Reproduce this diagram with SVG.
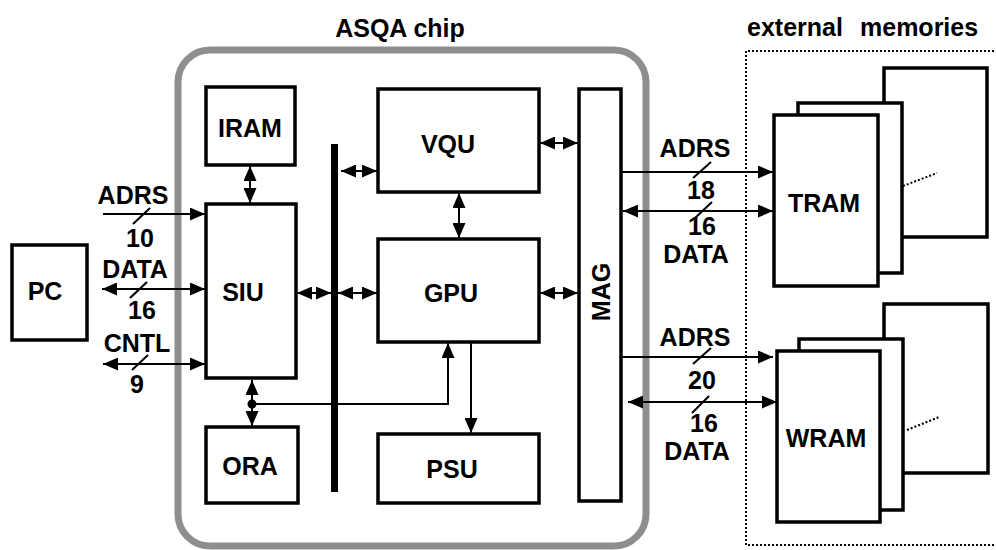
<svg xmlns="http://www.w3.org/2000/svg" width="996" height="550" viewBox="0 0 996 550">
<style>
.box{fill:#fff;stroke:#000;stroke-width:3.5}
.t{font-family:"Liberation Sans",Arial,sans-serif;font-weight:bold;font-size:25px;fill:#000;text-anchor:middle}
.ln{fill:none;stroke:#000;stroke-width:2}
.a1{marker-end:url(#ah)}
.a2{marker-start:url(#ah);marker-end:url(#ah)}
.dot{fill:none;stroke:#000;stroke-width:2;stroke-dasharray:2 2}
</style>
<defs>
<marker id="ah" markerUnits="userSpaceOnUse" markerWidth="15" markerHeight="13" viewBox="0 0 15 13" refX="15" refY="6.5" orient="auto-start-reverse">
<path d="M0,0 L15,6.5 L0,13 z" fill="#000"/>
</marker>
</defs>
<rect width="996" height="550" fill="#fff"/>

<g id="chip">
<rect x="178" y="50" width="468" height="496" rx="32" ry="32" fill="none" stroke="#8e8e8e" stroke-width="7"/>
<text class="t" x="400" y="37">ASQA chip</text>
</g>

<g id="external">
<path class="dot" d="M998,51 H746 V545 H998"/>
<text class="t" x="747" y="36" style="text-anchor:start">external</text>
<text class="t" x="860" y="36" style="text-anchor:start">memories</text>
</g>

<g id="PC"><rect class="box" x="12" y="245" width="75" height="95"/><text class="t" x="45" y="300">PC</text></g>
<g id="IRAM"><rect class="box" x="206" y="87" width="89" height="78"/><text class="t" x="250" y="137">IRAM</text></g>
<g id="SIU"><rect class="box" x="206" y="204" width="90" height="174"/><text class="t" x="243" y="301">SIU</text></g>
<g id="ORA"><rect class="box" x="206" y="427" width="92" height="76"/><text class="t" x="250" y="475">ORA</text></g>
<g id="BUS"><rect x="331" y="144" width="7" height="348" fill="#000"/></g>
<g id="VQU"><rect class="box" x="378" y="89" width="161" height="103"/><text class="t" x="448" y="153">VQU</text></g>
<g id="GPU"><rect class="box" x="378" y="239" width="161" height="103"/><text class="t" x="451" y="302">GPU</text></g>
<g id="PSU"><rect class="box" x="378" y="434" width="161" height="69"/><text class="t" x="452" y="478">PSU</text></g>
<g id="MAG"><rect class="box" x="579" y="89" width="42" height="412"/><text class="t" transform="translate(610,292) rotate(-90)">MAG</text></g>

<g id="TRAM">
<rect class="box" x="884" y="68" width="103" height="169"/>
<rect class="box" x="798" y="103" width="104" height="170"/>
<rect class="box" x="774" y="115" width="104" height="171"/>
<path class="dot" d="M903,186 L937,173"/>
<text class="t" x="824" y="212">TRAM</text>
</g>
<g id="WRAM">
<rect class="box" x="884" y="304" width="104" height="169"/>
<rect class="box" x="799" y="339" width="104" height="171"/>
<rect class="box" x="777" y="351" width="103" height="171"/>
<path class="dot" d="M907,430 L939,417"/>
<text class="t" x="826" y="447">WRAM</text>
</g>

<g id="connectors">
<path class="ln a1" d="M103,214 H205"/>
<path class="ln" d="M133,224 L150,208"/>
<text class="t" x="133" y="204">ADRS</text>
<text class="t" x="140" y="247">10</text>
<path class="ln a2" d="M102,289 H205"/>
<path class="ln" d="M130,298 L147,282"/>
<text class="t" x="135" y="278">DATA</text>
<text class="t" x="142" y="319">16</text>
<path class="ln a2" d="M103,364 H205"/>
<path class="ln" d="M132,370 L148,355"/>
<text class="t" x="137" y="352">CNTL</text>
<text class="t" x="137" y="393">9</text>

<path class="ln a2" d="M250,166 V203"/>
<path class="ln a2" d="M297,293 H331"/>
<path class="ln a2" d="M338,293 H377"/>
<path class="ln a2" d="M341,171 H377"/>
<path class="ln a2" d="M459,193 V238"/>
<path class="ln a2" d="M540,143 H578"/>
<path class="ln a2" d="M540,293 H578"/>
<path class="ln a1" d="M471,343 V433"/>
<path class="ln a2" d="M252,380 V426"/>
<circle cx="252" cy="404" r="4.5" fill="#000"/>
<path class="ln a1" d="M252,404 H448 V343"/>

<path class="ln a1" d="M622,172 H773"/>
<path class="ln" d="M693,178 L711,162"/>
<text class="t" x="695" y="157">ADRS</text>
<text class="t" x="701" y="199">18</text>
<path class="ln a2" d="M623,211 H773"/>
<path class="ln" d="M695,218 L712,202"/>
<text class="t" x="702" y="235">16</text>
<text class="t" x="696" y="263">DATA</text>

<path class="ln a1" d="M622,357 H773"/>
<path class="ln" d="M693,364 L711,348"/>
<text class="t" x="695" y="346">ADRS</text>
<text class="t" x="702" y="389">20</text>
<path class="ln a2" d="M628,402 H777"/>
<path class="ln" d="M692,413 L709,396"/>
<text class="t" x="704" y="432">16</text>
<text class="t" x="697" y="460">DATA</text>
</g>
</svg>
